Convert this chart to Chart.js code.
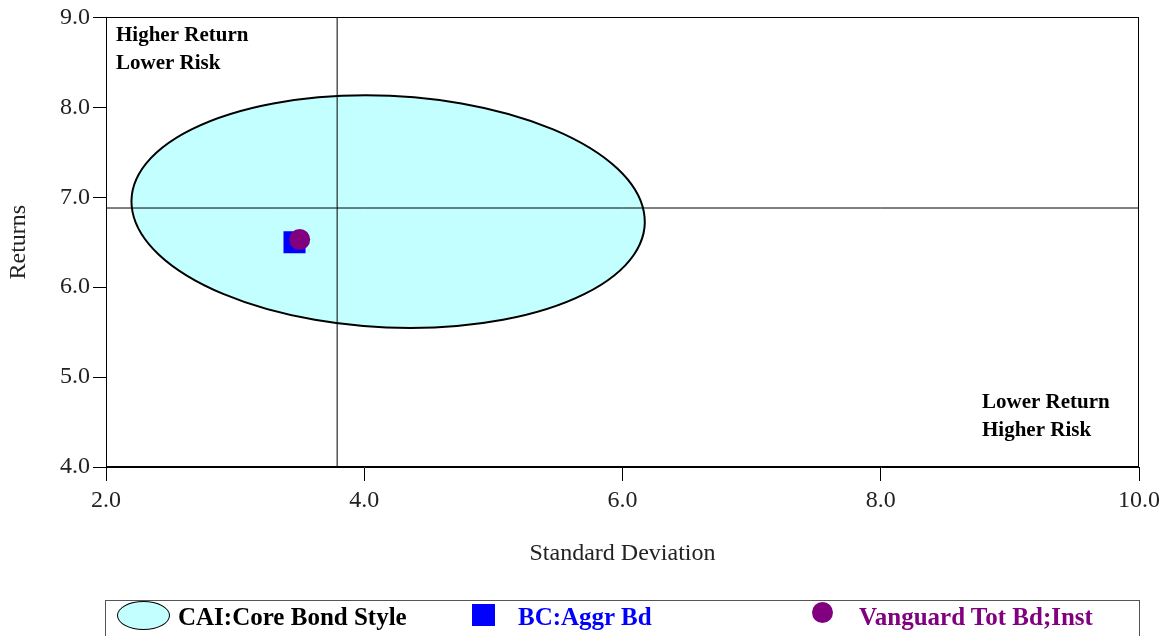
<!DOCTYPE html>
<html>
<head>
<meta charset="utf-8">
<script src="https://cdn.jsdelivr.net/npm/chart.js@4.4.0/dist/chart.umd.min.js"></script>
<style>
  html, body { margin: 0; padding: 0; background: #fff; }
  #wrap { position: relative; width: 1169px; height: 636px; overflow: hidden; }
  #chart { position: absolute; left: 0; top: 0; }
  .legend {
    position: absolute; left: 105px; top: 600px; width: 1035px; height: 60px;
    border: 1px solid #555; box-sizing: border-box;
    font-family: 'Liberation Serif', 'Times New Roman', serif;
    font-weight: bold; font-size: 25px;
  }
  .legend .txt { position: absolute; top: -1px; line-height: 34px; white-space: nowrap; }
  .legend .ico { position: absolute; box-sizing: border-box; }
</style>
</head>
<body>
<div id="wrap">
  <canvas id="chart" width="1169" height="636"></canvas>
  <div class="legend">
    <div class="ico" style="left:11px;top:0px;width:53px;height:29px;border:1.5px solid #000;border-radius:50%;background:#c4ffff"></div>
    <div class="txt" style="left:72px;color:#000">CAI:Core Bond Style</div>
    <div class="ico" style="left:366px;top:3px;width:23px;height:22px;background:#0000ff"></div>
    <div class="txt" style="left:412px;color:#0000ff">BC:Aggr Bd</div>
    <div class="ico" style="left:706px;top:1px;width:21px;height:21px;border-radius:50%;background:#800080"></div>
    <div class="txt" style="left:753px;color:#800080">Vanguard Tot Bd;Inst</div>
  </div>
</div>
<script>
// axis ranges and ticks
const xTicks = [2.0, 4.0, 6.0, 8.0, 10.0];
const yTicks = [4.0, 5.0, 6.0, 7.0, 8.0, 9.0];

// style ellipse: centre and two conjugate half-axes, in (std dev, return) units
const ellipseCenter = [4.185, 6.84];
const ellipseAxisA = [1.98, 0];
const ellipseAxisB = [0.173, -1.294];

// median crosshair
const crossX = 3.79;
const crossY = 6.88;

// managers
const benchmarkPoint = [3.46, 6.50];   // BC:Aggr Bd
const fundPoint = [3.50, 6.53];        // Vanguard Tot Bd;Inst

const serif = "'Liberation Serif', 'Times New Roman', serif";

const ellipsePlugin = {
  id: 'styleEllipse',
  beforeDatasetsDraw(chart) {
    const { ctx, chartArea, scales: { x, y } } = chart;
    const cx = x.getPixelForValue(ellipseCenter[0]);
    const cy = y.getPixelForValue(ellipseCenter[1]);
    const ux = x.getPixelForValue(ellipseCenter[0] + ellipseAxisA[0]) - cx;
    const uy = y.getPixelForValue(ellipseCenter[1] + ellipseAxisA[1]) - cy;
    const vx = x.getPixelForValue(ellipseCenter[0] + ellipseAxisB[0]) - cx;
    const vy = y.getPixelForValue(ellipseCenter[1] + ellipseAxisB[1]) - cy;
    ctx.save();
    ctx.beginPath();
    ctx.rect(chartArea.left, chartArea.top, chartArea.width, chartArea.height);
    ctx.clip();
    ctx.beginPath();
    ctx.save();
    ctx.transform(ux, uy, vx, vy, cx, cy);
    ctx.arc(0, 0, 1, 0, Math.PI * 2);
    ctx.restore();
    ctx.fillStyle = '#c4ffff';
    ctx.fill();
    ctx.lineWidth = 2;
    ctx.strokeStyle = '#000';
    ctx.stroke();
    ctx.restore();
  }
};

const framePlugin = {
  id: 'frame',
  afterDatasetsDraw(chart) {
    const { ctx, chartArea: a } = chart;
    ctx.save();
    ctx.strokeStyle = '#000';
    ctx.lineWidth = 1;
    ctx.strokeRect(Math.round(a.left) + 0.5, Math.round(a.top) + 0.5,
      Math.round(a.width) - 1, Math.round(a.height) - 1);

    ctx.fillStyle = '#000';
    ctx.font = 'bold 21px ' + serif;
    ctx.textBaseline = 'middle';
    ctx.textAlign = 'left';
    ctx.fillText('Higher Return', a.left + 10, a.top + 18);
    ctx.fillText('Lower Risk', a.left + 10, a.top + 46);
    ctx.fillText('Lower Return', a.right - 157, a.bottom - 64);
    ctx.fillText('Higher Risk', a.right - 157, a.bottom - 36);
    ctx.restore();
  }
};

new Chart(document.getElementById('chart'), {
  type: 'scatter',
  data: {
    datasets: [
      {
        label: 'Vanguard Tot Bd;Inst',
        data: [{ x: fundPoint[0], y: fundPoint[1] }],
        pointStyle: 'circle', pointRadius: 10.5,
        backgroundColor: '#800080', borderColor: '#800080', borderWidth: 0
      },
      {
        label: 'BC:Aggr Bd',
        data: [{ x: benchmarkPoint[0], y: benchmarkPoint[1] }],
        pointStyle: 'rect', pointRadius: 15.6,
        backgroundColor: '#0000ff', borderColor: '#0000ff', borderWidth: 0
      },
      {
        label: 'crossX', type: 'line', showLine: true,
        data: [{ x: crossX, y: yTicks[0] }, { x: crossX, y: yTicks[yTicks.length - 1] }],
        borderColor: '#000', borderWidth: 1, pointRadius: 0
      },
      {
        label: 'crossY', type: 'line', showLine: true,
        data: [{ x: xTicks[0], y: crossY }, { x: xTicks[xTicks.length - 1], y: crossY }],
        borderColor: '#000', borderWidth: 1, pointRadius: 0
      }
    ]
  },
  options: {
    responsive: false,
    animation: false,
    devicePixelRatio: 1,
    layout: { padding: { left: 0, top: 17, right: 30, bottom: 40 } },
    plugins: { legend: { display: false }, tooltip: { enabled: false } },
    scales: {
      x: {
        type: 'linear', min: xTicks[0], max: xTicks[xTicks.length - 1],
        afterBuildTicks: s => { s.ticks = xTicks.map(v => ({ value: v })); },
        afterFit: s => { s.height = 129; },
        ticks: {
          padding: 5, color: '#222',
          font: { family: serif, size: 24 },
          callback: v => Number(v).toFixed(1)
        },
        grid: { drawOnChartArea: false, drawTicks: true, tickLength: 14, color: '#000' },
        border: { display: true, color: '#000' },
        title: {
          display: true, text: 'Standard Deviation', color: '#222',
          font: { family: serif, size: 24 }, padding: { top: 0, bottom: 28 }
        }
      },
      y: {
        type: 'linear', min: yTicks[0], max: yTicks[yTicks.length - 1],
        afterBuildTicks: s => { s.ticks = yTicks.map(v => ({ value: v })); },
        afterFit: s => { s.width = 106; },
        ticks: {
          padding: 3, color: '#222',
          font: { family: serif, size: 24 },
          callback: v => Number(v).toFixed(1)
        },
        grid: { drawOnChartArea: false, drawTicks: true, tickLength: 13, color: '#000' },
        border: { display: true, color: '#000' },
        title: {
          display: true, text: 'Returns', color: '#222',
          font: { family: serif, size: 24 }, padding: { top: 4, bottom: 0 }
        }
      }
    }
  },
  plugins: [ellipsePlugin, framePlugin]
});
</script>
</body>
</html>
